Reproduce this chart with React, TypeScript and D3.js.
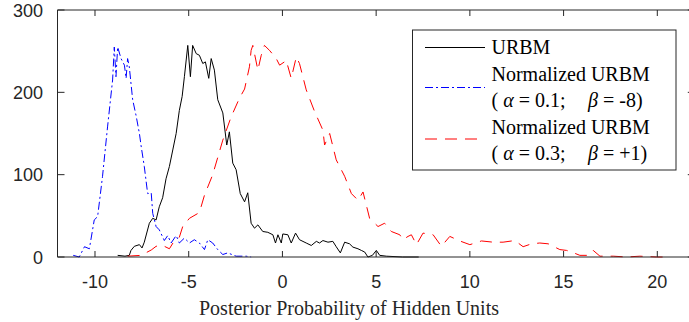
import React from "react";
import * as d3 from "d3";

const urbmX = [-8.79,-8.4,-8.17,-8.08,-7.9,-7.63,-7.49,-7.37,-7.1,-6.92,-6.74,-6.57,-6.39,-6.21,-6.03,-5.85,-5.67,-5.5,-5.35,-5.23,-5.05,-4.91,-4.79,-4.6,-4.43,-4.25,-4.11,-3.93,-3.8,-3.63,-3.45,-3.18,-2.97,-2.83,-2.65,-2.47,-2.25,-2.02,-1.85,-1.67,-1.49,-1.31,-1.05,-0.78,-0.51,-0.37,-0.24,-0.06,0.02,0.29,0.47,0.7,0.91,1.27,1.54,1.81,1.98,2.16,2.43,2.69,2.87,3.09,3.32,3.58,3.76,4.03,4.21,4.39,4.56,4.8,5.01,5.19,5.54,6.4,7.27];
const urbmY = [2,1,2,8,13,15,11,18,41,47,45,61,72,95,110,130,150,178,195,219,257,219,257,247,245,235,237,217,241,227,191,175,136,152,114,106,77,67,78,41,35,39,31,30,27,17,27,17,28,27,17,29,21,17,14,19,17,20,18,19,12.5,5,18,16,12,10,8,6,0,2,8,2,1,0,0];

const blueX = [-11.16,-10.84,-10.56,-10.3,-10.04,-9.86,-9.6,-9.33,-9.06,-8.97,-8.88,-8.79,-8.61,-8.43,-8.34,-8.26,-8.17,-7.99,-7.81,-7.63,-7.54,-7.37,-7.19,-7.0,-6.92,-6.74,-6.57,-6.3,-6.12,-5.94,-5.67,-5.5,-5.23,-4.96,-4.7,-4.43,-4.16,-3.98,-3.72,-3.45,-3.18,-2.92,-2.47,-1.93,-1.67];
const blueY = [2,0,12.5,10,45,49,97.5,158,215,255,219,255,241,233,217,241,231,191,172,150,135,110,77,78,53,37,33,20,26,17,26,17,23,17,21,17,9,21,17,9,3,5,1,1,0];

const redX = [-8.26,-7.54,-7.0,-6.74,-6.39,-6.03,-5.76,-5.5,-5.32,-4.96,-4.43,-4.16,-3.72,-3.18,-2.74,-2.29,-2.02,-1.76,-1.67,-1.58,-1.31,-1.13,-0.96,-0.69,-0.33,-0.15,0.11,0.2,0.47,0.74,0.91,1.27,1.71,2.16,2.25,2.52,2.87,3.32,3.68,4.03,4.3,4.65,5.1,5.45,5.81,6.26,6.43,6.7,6.88,7.15,7.5,8.04,8.48,8.93,9.46,10.0,10.62,11.24,11.77,12.4,12.84,13.29,13.73,14.18,14.8,15.16,15.43,15.87,16.31,16.58,16.94,17.65,18.36,19.07,19.96,20.32];
const redY = [1,2,8.5,13,14,10,20,24,37,47,54,75,100,142,170,193,204,231,251,257,227,245,257,251,241,233,237,239,217,243,235,203,177,154,136,150,118,98,77,69,79,47,37,41,31,27,21,25,27,15,29,27,13,25,19.5,15,19.5,18,18,20,12.5,16,17,16,9,8,6,2,2,8,1,1,0,1,0,0];

const xTicks = [-10, -5, 0, 5, 10, 15, 20];
const yTicks = [0, 100, 200, 300];

export default function App() {
  const x = d3.scaleLinear().domain([-12, 22]).range([57.5, 694.8]);
  const y = d3.scaleLinear().domain([0, 300]).range([257, 10]);
  const line = d3.line<[number, number]>().x(d => x(d[0])).y(d => y(d[1]));
  const zip = (a: number[], b: number[]) => a.map((v, i) => [v, b[i]] as [number, number]);
  const axisColor = "#262626";
  const sans = "'Liberation Sans', Arial, Helvetica, sans-serif";
  const serif = "'Liberation Serif', 'Times New Roman', serif";
  const left = x(-12), right = x(22), top = y(300), bottom = y(0);
  const lx = 412.5, ly = 30, lw = 263.5, lh = 140;
  const tx = 491.5;
  return (
    <svg width={689} height={322} style={{ position: "absolute", left: 0, top: 0, background: "#fff" }}>
      <rect x={0} y={0} width={689} height={322} fill="#fff" />
      {/* data */}
      <path d={line(zip(blueX, blueY)) || ""} fill="none" stroke="#0000ff" strokeWidth={1} strokeDasharray="8,3,2,3" />
      <path d={line(zip(urbmX, urbmY)) || ""} fill="none" stroke="#000" strokeWidth={1} />
      <path d={line(zip(redX, redY)) || ""} fill="none" stroke="#ff0000" strokeWidth={1} strokeDasharray="12,8" />
      {/* axes box */}
      <line x1={left} x2={right} y1={top} y2={top} stroke={axisColor} />
      <line x1={left} x2={right} y1={bottom} y2={bottom} stroke={axisColor} />
      <line x1={left} x2={left} y1={top} y2={bottom} stroke={axisColor} />
      <line x1={right} x2={right} y1={top} y2={bottom} stroke={axisColor} />
      {xTicks.map(t => (
        <g key={"x" + t}>
          <line x1={x(t)} x2={x(t)} y1={bottom} y2={bottom - 6} stroke={axisColor} />
          <line x1={x(t)} x2={x(t)} y1={top} y2={top + 6} stroke={axisColor} />
          <text x={x(t)} y={288} textAnchor="middle" fontFamily={sans} fontSize={18} fill={axisColor}>{t}</text>
        </g>
      ))}
      {yTicks.map(t => (
        <g key={"y" + t}>
          <line x1={left} x2={left + 7} y1={y(t)} y2={y(t)} stroke={axisColor} />
          <line x1={right} x2={right - 7} y1={y(t)} y2={y(t)} stroke={axisColor} />
          <text x={43} y={y(t) + 6.5} textAnchor="end" fontFamily={sans} fontSize={18} fill={axisColor}>{t}</text>
        </g>
      ))}
      <text x={349} y={315} textAnchor="middle" fontFamily={serif} fontSize={20} fill={axisColor}>Posterior Probability of Hidden Units</text>
      {/* legend */}
      <rect x={lx} y={ly} width={lw} height={lh} fill="#fff" stroke={axisColor} strokeWidth={1} />
      <line x1={425} x2={485} y1={47.5} y2={47.5} stroke="#000" />
      <line x1={425} x2={485} y1={87.5} y2={87.5} stroke="#0000ff" strokeDasharray="8,3,2,3" />
      <line x1={425} x2={485} y1={139} y2={139} stroke="#ff0000" strokeDasharray="12,8" />
      <g fontFamily={serif} fontSize={20} fill="#000">
        <text x={tx} y={54}>URBM</text>
        <text x={tx} y={81}>Normalized URBM</text>
        <text x={tx} y={107}>(<tspan fontStyle="italic"> α</tspan> = 0.1;<tspan x={588} fontStyle="italic">β</tspan> = -8)</text>
        <text x={tx} y={134}>Normalized URBM</text>
        <text x={tx} y={160}>(<tspan fontStyle="italic"> α</tspan> = 0.3;<tspan x={588} fontStyle="italic">β</tspan> = +1)</text>
      </g>
    </svg>
  );
}
